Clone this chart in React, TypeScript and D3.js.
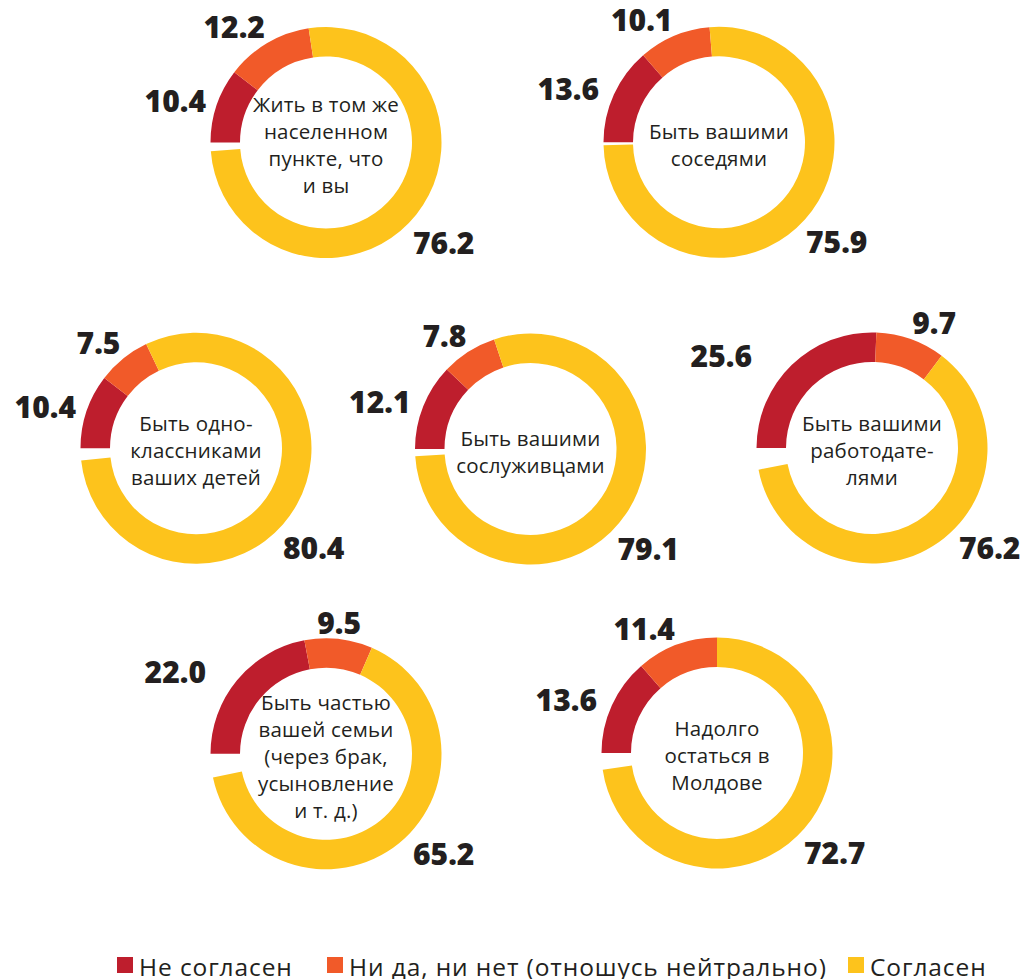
import React, { useEffect } from "react";
import * as d3 from "d3";

// ---- data ----
const categories: string[][] = [
  ["Жить в том же", "населенном", "пункте, что", "и вы"],
  ["Быть вашими", "соседями"],
  ["Быть одно-", "классниками", "ваших детей"],
  ["Быть вашими", "сослуживцами"],
  ["Быть вашими", "работодате-", "лями"],
  ["Быть частью", "вашей семьи", "(через брак,", "усыновление", "и т. д.)"],
  ["Надолго", "остаться в", "Молдове"],
];
const disagree = [10.4, 13.6, 10.4, 12.1, 25.6, 22.0, 13.6];
const neutral = [12.2, 10.1, 7.5, 7.8, 9.7, 9.5, 11.4];
const agree = [76.2, 75.9, 80.4, 79.1, 76.2, 65.2, 72.7];
// arc length actually drawn in the source for "agree" (differs for one ring)
const agreeArc = [76.2, 75.9, 80.4, 79.1, 61.7, 65.2, 72.7];
const seriesNames = ["Не согласен", "Ни да, ни нет (отношусь нейтрально)", "Согласен"];

// ---- layout / style ----
const W = 1027;
const H = 979;
const centers: [number, number][] = [
  [326, 142.5],
  [719, 142.3],
  [196, 448.3],
  [530.5, 449],
  [872, 448],
  [326, 753.8],
  [717, 753],
];
const R_OUT = 115.5;
const R_IN = 86;
const colors = ["#be1e2d", "#f15a29", "#fdc31c"];
const textColor = "#231f20";
const numFont = "'Open Sans', sans-serif";
const legendX = [117, 327, 848];

export default function App() {
  useEffect(() => {
    document.body.style.margin = "0";
  }, []);

  const angle = d3.scaleLinear().domain([0, 100]).range([0, 2 * Math.PI]);
  const arc = d3.arc<any>().innerRadius(R_IN).outerRadius(R_OUT);
  const start0 = -Math.PI / 2;

  return (
    <svg width={W} height={H} style={{ display: "block", background: "#fff" }}>
      {categories.map((lines, i) => {
        const [cx, cy] = centers[i];
        const vals = [disagree[i], neutral[i], agreeArc[i]];
        const shown = [disagree[i], neutral[i], agree[i]];
        let acc = 0;
        const segs = vals.map((v, k) => {
          const s = start0 + angle(acc);
          acc += v;
          const e = start0 + angle(acc);
          return { s, e, k, v: shown[k] };
        });
        return (
          <g key={i} transform={`translate(${cx},${cy})`}>
            {segs.map((sg) => (
              <path
                key={sg.k}
                d={arc({ startAngle: sg.s, endAngle: sg.e }) as string}
                fill={colors[sg.k]}
              />
            ))}
            {segs.map((sg) => {
              const mid = (sg.s + sg.e) / 2;
              let x = 0,
                y = 0,
                anchor: "start" | "middle" | "end" = "start";
              if (sg.k === 0) {
                x = -120;
                y = -128 * Math.cos(mid) + 11;
                anchor = "end";
              } else if (sg.k === 1) {
                const sx = Math.sin(mid);
                x = 120 * sx;
                y = -120 * Math.cos(mid) - 1;
                anchor = sx < -0.2 ? "end" : sx > 0.2 ? "start" : "middle";
              } else {
                x = 87;
                y = 111;
                anchor = "start";
              }
              return (
                <text
                  key={"l" + sg.k}
                  x={x}
                  y={y}
                  textAnchor={anchor}
                  fontFamily={numFont}
                  fontWeight={800}
                  fontSize={30}
                  fill={textColor}
                >
                  {sg.v.toFixed(1)}
                </text>
              );
            })}
            {lines.map((ln, j) => (
              <text
                key={"c" + j}
                x={0}
                y={(j - (lines.length - 1) / 2) * 27 + 10}
                textAnchor="middle"
                fontFamily="'Open Sans', sans-serif"
                fontSize={20.5}
                letterSpacing={0.2}
                fill={textColor}
              >
                {ln}
              </text>
            ))}
          </g>
        );
      })}
      {seriesNames.map((name, k) => (
        <g key={k} transform={`translate(${legendX[k]},957)`}>
          <rect x={0} y={0} width={16} height={16} fill={colors[k]} />
          <text
            x={22}
            y={18.5}
            fontFamily="'Open Sans', sans-serif"
            fontSize={24.5}
            letterSpacing={0.9}
            fill={textColor}
          >
            {name}
          </text>
        </g>
      ))}
    </svg>
  );
}
